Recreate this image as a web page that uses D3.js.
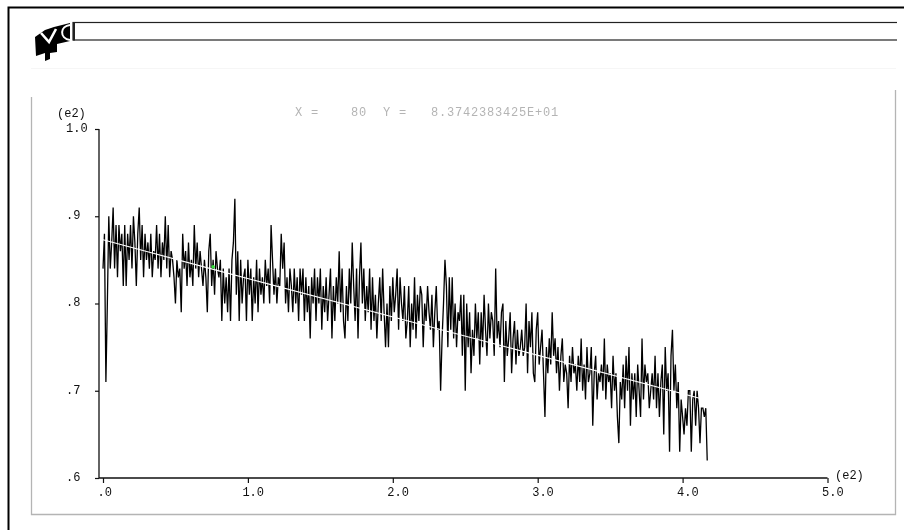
<!doctype html>
<html>
<head>
  <meta charset="utf-8">
  <title>Plot</title>
  <style type="text/css">
    body{ margin:0; background:#fff; }
    svg{ display:block; filter:blur(0.35px); }
    text{ font-family:"Liberation Mono", "DejaVu Sans Mono", monospace; font-size:12px; fill:#111; }
  </style>
</head>
<body>
  <div id="vis"></div>
  <script src="https://cdnjs.cloudflare.com/ajax/libs/d3/7.8.5/d3.min.js"></script>
  <script type="text/javascript">

    // values, one per x step
    var series = [
      84,88,71,80,90,84,87,91,84,89,
      83,89,86,88,82,89,82,88,85,89,
      84,90,87,82,88,91,85,89,83,88,
      85,87,84,88,83,86,85,89,84,88,
      83,87,85,90,84,89,83,86,85,83,
      80,85,83,84,79,88,84,86,82,87,
      83,85,82,89,84,87,83,86,84,82,
      85,83,79,86,88,82,85,81,86,84,
      83,85,78,84,80,83,79,84,78,85,
      87,92,81,86,78,85,80,83,84,78,
      85,81,84,78,83,80,85,79,84,81,
      83,80,85,82,84,80,89,85,81,84,
      80,83,82,88,84,87,80,83,79,84,
      82,79,84,80,83,78,84,81,84,78,
      83,79,82,76,83,80,84,78,83,80,
      84,77,82,79,83,78,81,84,76,82,
      78,83,80,86,79,84,78,76,82,78,
      84,80,87,82,78,84,76,83,87,80,
      84,78,82,79,84,77,83,78,81,76,
      80,83,78,84,79,75,80,75,82,78,
      83,79,81,84,77,83,80,78,82,76,
      78,82,75,80,77,83,76,81,78,82,
      81,75,80,78,82,79,77,81,75,79,
      82,77,78,70,76,80,85,82,75,83,
      77,83,76,80,75,79,78,81,74,81,
      70,80,75,79,72,77,74,80,76,79,
      73,79,75,81,77,74,80,76,79,78,
      74,84,76,78,75,79,80,71,78,74,
      76,79,72,76,78,73,77,74,75,77,
      74,75,80,72,78,75,79,72,71,77,
      79,73,75,77,72,67,75,72,76,73,
      79,74,76,72,75,70,74,76,71,73,
      72,68,74,71,75,72,73,70,74,71,
      76,70,73,69,75,71,72,75,66,72,
      74,69,72,71,73,70,76,69,73,71,
      72,68,74,70,72,67,64,71,69,73,
      68,74,70,75,66,72,69,72,67,73,
      70,67,76,69,73,71,72,68,70,72,
      69,74,68,72,67,71,73,65,75,70,
      72,63,74,77,70,73,68,71,63,69,
      67,65,68,66,70,70,63,69,70,66,
      70,68,64,68,68,67,68,62
    ];
    var fitX = [0, 80, 415];
    var fitY = [87.3, 83.74, 69];
    var cursor = {x: 76, y: 84.2};

    var xTicks = [0, 100, 200, 300, 400, 500];
    var xLabels = ['.0', '1.0', '2.0', '3.0', '4.0', '5.0'];
    var yTicks = [60, 70, 80, 90, 100];
    var yLabels = ['.6', '.7', '.8', '.9', '1.0'];
    var readout = 'X =    80  Y =   8.3742383425E+01';

    var vis = d3.select('#vis').append('svg').attr('width', 904).attr('height', 530);

    var x = d3.scaleLinear().domain([0, 500]).range([103, 827.5]);
    var y = d3.scaleLinear().domain([60, 100]).range([478, 129]);

    // page frame
    vis.append('path').attr('d', 'M8.5 530V7.5H904')
      .style('fill', 'none').style('stroke', '#000').style('stroke-width', 2);
    vis.append('rect').attr('x', 73).attr('y', 22.5).attr('width', 900).attr('height', 17.5)
      .style('fill', '#fff').style('stroke', '#222').style('stroke-width', 1.2);
    vis.append('rect').attr('x', 897).attr('y', 21).attr('width', 7).attr('height', 21).style('fill', '#fff');
    vis.append('line').attr('x1', 31).attr('x2', 896).attr('y1', 68.5).attr('y2', 68.5)
      .style('stroke', '#f6f6f6');
    vis.append('path').attr('d', 'M31.5 97V514.5H895.5V90')
      .style('fill', 'none').style('stroke', '#b4b4b4').style('stroke-width', 1.3);

    // logo
    vis.append('path')
      .attr('d', 'M35 37L45 30L54 27L70 23L70 41L57 44L57 52L50 53L50 59L45 61L45 53L36 56Z')
      .style('fill', '#000');
    vis.append('path').attr('d', 'M41 33L49 42L56 29')
      .style('fill', 'none').style('stroke', '#fff').style('stroke-width', 2.6);
    vis.append('path').attr('d', 'M70 25C60 26 59 38 70 40')
      .style('fill', 'none').style('stroke', '#fff').style('stroke-width', 2);
    vis.append('rect').attr('x', 73).attr('y', 22).attr('width', 2).attr('height', 18.5).style('fill', '#222');

    // axes
    var xAxis = d3.axisBottom(x).tickValues(xTicks).tickSize(5).tickSizeOuter(0)
      .tickFormat(function(d, i){ return xLabels[i]; });
    var yAxis = d3.axisLeft(y).tickValues(yTicks).tickSize(4).tickSizeOuter(0)
      .tickFormat(function(d, i){ return yLabels[i]; });

    var gx = vis.append('g').attr('transform', 'translate(0,478)').call(xAxis);
    var gy = vis.append('g').attr('transform', 'translate(99,0)').call(yAxis);

    gx.select('.domain').remove();
    gy.select('.domain').remove();
    gx.selectAll('line').style('stroke', '#111').style('stroke-width', 1.2);
    gy.selectAll('line').style('stroke', '#111').style('stroke-width', 1.2);
    gx.selectAll('text').attr('text-anchor', 'start').attr('x', -6).attr('y', 9).attr('dy', '.71em');
    gy.selectAll('text').attr('text-anchor', 'start').attr('x', -33).attr('dy', '.2em');

    vis.append('path').attr('d', 'M99 129V478H' + x(500))
      .style('fill', 'none').style('stroke', '#111').style('stroke-width', 1.3);

    vis.append('text').attr('x', 57).attr('y', 117).text('(e2)');
    vis.append('text').attr('x', 835).attr('y', 479).text('(e2)');
    vis.append('text').attr('x', 295).attr('y', 116)
      .style('white-space', 'pre')
      .style('fill', '#b4b4b4').style('letter-spacing', '0.8px').text(readout);

    // measured series, fit on top
    var line = d3.line().x(function(d, i){ return x(i); }).y(function(d){ return y(d); });
    vis.append('path').attr('d', line(series))
      .style('fill', 'none').style('stroke', '#000').style('stroke-width', 1.3);

    var fit = d3.line().x(function(d){ return x(d); }).y(function(d, i){ return y(fitY[i]); });
    vis.append('path').attr('d', fit(fitX))
      .style('fill', 'none').style('stroke', '#fff').style('stroke-width', 1.1);

    vis.append('circle').attr('cx', x(cursor.x)).attr('cy', y(cursor.y)).attr('r', 1.8)
      .style('fill', '#33e03a');

  </script>
</body>
</html>
